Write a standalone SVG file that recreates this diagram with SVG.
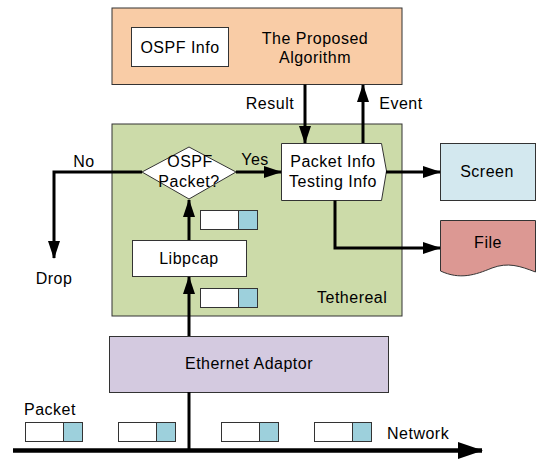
<svg xmlns="http://www.w3.org/2000/svg" width="539" height="460" viewBox="0 0 539 460">
  <defs>
    <marker id="arr" viewBox="0 0 18 12" refX="17" refY="6" markerWidth="6" markerHeight="4" markerUnits="strokeWidth" orient="auto">
      <path d="M0,0 L18,6 L0,12 z" fill="#000"/>
    </marker>
    <marker id="arrBig" viewBox="0 0 25 17" refX="24" refY="8.5" markerWidth="5.56" markerHeight="3.78" markerUnits="strokeWidth" orient="auto">
      <path d="M0,0 L25,8.5 L0,17 z" fill="#000"/>
    </marker>
    <g id="pkt">
      <rect x="0" y="0" width="38" height="19" fill="#fff" stroke="#333" stroke-width="1"/>
      <rect x="38" y="0" width="19" height="19" fill="#9dd0dc" stroke="#333" stroke-width="1"/>
    </g>
  </defs>
  <style>
    text { font-family: "Liberation Sans", Arial, sans-serif; font-size: 16px; letter-spacing: 0.5px; fill: #000; }
    .c { text-anchor: middle; }
    .box { stroke: #333; stroke-width: 1; }
    .wire { fill: none; stroke: #000; stroke-width: 3; }
  </style>

  <rect x="0" y="0" width="539" height="460" fill="#fff"/>

  <!-- Algorithm -->
  <g id="algorithm">
    <rect class="box" x="112" y="8" width="290" height="76.5" fill="#f9cca6"/>
    <text class="c" x="315" y="44">The Proposed</text>
    <text class="c" x="315" y="63">Algorithm</text>
  </g>
  <g id="ospf-info">
    <rect class="box" x="131.5" y="27.5" width="97" height="39" fill="#fff"/>
    <text class="c" x="180" y="53">OSPF Info</text>
  </g>

  <!-- Tethereal -->
  <g id="tethereal">
    <rect class="box" x="112" y="124" width="290" height="192" fill="#ccdba9"/>
    <text x="317" y="303">Tethereal</text>
  </g>

  <g id="decision">
    <polygon class="box" points="142,172 189,147 236,172 189,199" fill="#fff"/>
    <text class="c" x="190" y="167">OSPF</text>
    <text class="c" x="189" y="187">Packet?</text>
  </g>

  <g id="packet-info">
    <polygon class="box" points="281.5,143.5 381.5,143.5 386.5,171 381.5,200.5 281.5,200.5" fill="#fff"/>
    <text class="c" x="333" y="167">Packet Info</text>
    <text class="c" x="333" y="187">Testing Info</text>
  </g>

  <g id="libpcap">
    <rect class="box" x="132.5" y="240.5" width="114" height="36" fill="#fff"/>
    <text class="c" x="189" y="264">Libpcap</text>
  </g>

  <g id="screen">
    <rect class="box" x="440.5" y="143.5" width="95" height="57" fill="#d3e8ef"/>
    <text class="c" x="487" y="177">Screen</text>
  </g>

  <g id="file">
    <path class="box" d="M440.5,220.5 H535.5 V272 C520,266 508,262 492,268 C475,275 460,280 440.5,271 Z" fill="#dc9893"/>
    <text class="c" x="488" y="248">File</text>
  </g>

  <g id="ethernet">
    <rect class="box" x="109.5" y="336.5" width="279" height="56" fill="#d4cae0"/>
    <text class="c" x="249" y="369">Ethernet Adaptor</text>
  </g>

  <!-- packets -->
  <g id="packets">
    <use href="#pkt" x="200.5" y="210.5"/>
    <use href="#pkt" x="200.5" y="288.5"/>
    <use href="#pkt" x="25.5" y="422.5"/>
    <use href="#pkt" x="118.5" y="422.5"/>
    <use href="#pkt" x="221.5" y="422.5"/>
    <use href="#pkt" x="314.5" y="422.5"/>
  </g>

  <!-- connectors -->
  <g id="connectors">
    <line class="wire" x1="305" y1="84.5" x2="305" y2="143" marker-end="url(#arr)"/>
    <line class="wire" x1="363" y1="143" x2="363" y2="85" marker-end="url(#arr)"/>
    <line class="wire" x1="236" y1="172" x2="281" y2="172" marker-end="url(#arr)"/>
    <polyline class="wire" points="142,172 54,172 54,258" marker-end="url(#arr)"/>
    <line class="wire" x1="386" y1="172" x2="440" y2="172" marker-end="url(#arr)"/>
    <polyline class="wire" points="335,200.5 335,248 440,248" marker-end="url(#arr)"/>
    <line class="wire" x1="189" y1="240" x2="189" y2="200" marker-end="url(#arr)"/>
    <line class="wire" x1="189" y1="336" x2="189" y2="277" marker-end="url(#arr)"/>
    <line class="wire" x1="189" y1="392" x2="189" y2="450"/>
    <line x1="13" y1="450.5" x2="482" y2="450.5" stroke="#000" stroke-width="4.5" marker-end="url(#arrBig)"/>
  </g>

  <!-- labels -->
  <g id="labels">
    <text class="c" x="270" y="109">Result</text>
    <text class="c" x="401" y="109">Event</text>
    <text class="c" x="255" y="165">Yes</text>
    <text class="c" x="84" y="167">No</text>
    <text class="c" x="54" y="284">Drop</text>
    <text x="24" y="415">Packet</text>
    <text x="387" y="439">Network</text>
  </g>
</svg>
